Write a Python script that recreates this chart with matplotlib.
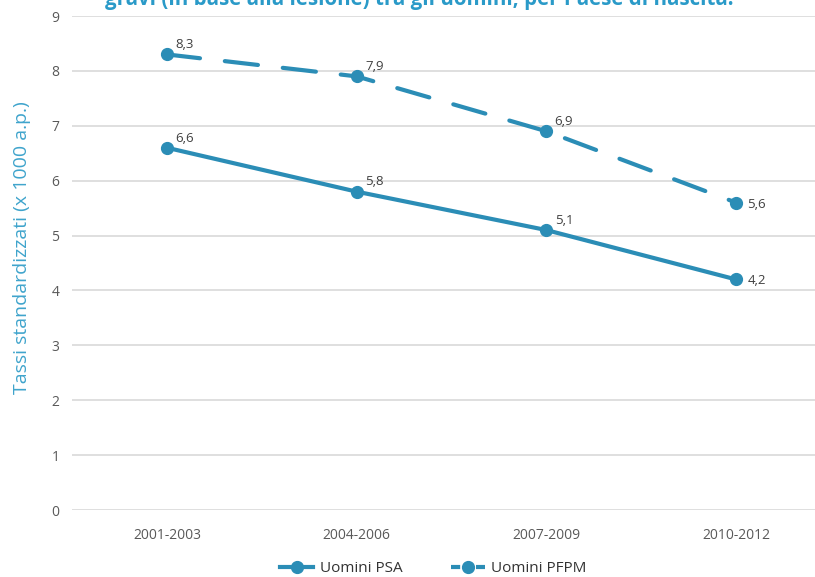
import matplotlib
matplotlib.use("Agg")
import matplotlib.pyplot as plt
from matplotlib.lines import Line2D

plt.rcParams['font.family'] = ['Open Sans', 'DejaVu Sans']

periods = ["2001-2003", "2004-2006", "2007-2009", "2010-2012"]
psa = [6.6, 5.8, 5.1, 4.2]
pfpm = [8.3, 7.9, 6.9, 5.6]
series_names = ["Uomini PSA", "Uomini PFPM"]
y_ticks = [0, 1, 2, 3, 4, 5, 6, 7, 8, 9]
title = "gravi (in base alla lesione) tra gli uomini, per Paese di nascita."
y_label = "Tassi standardizzati (x 1000 a.p.)"

BLUE = "#2B8DB6"
GRID = "#D9D9D9"
TICK = "#595959"

fig = plt.figure(figsize=(8.15, 5.77), dpi=100)
ax = fig.add_axes([72 / 815, 1 - 510 / 577, 759 / 815, 494 / 577])

x = list(range(len(periods)))
ax.plot(x, psa, color=BLUE, lw=3, marker="o", ms=8.5, solid_capstyle="round", zorder=3)
ax.plot(x, pfpm, color=BLUE, lw=3, marker="o", ms=8.5, dashes=(8, 6),
        dash_capstyle="round", zorder=3)

for values in (psa, pfpm):
    for i, v in enumerate(values):
        label = f"{v:.1f}".replace(".", ",")
        if i == len(values) - 1:
            ax.annotate(label, (i, v), xytext=(8, -1), textcoords="offset points",
                        ha="left", va="center", fontsize=9.5, color="#404040")
        else:
            ax.annotate(label, (i, v), xytext=(6, 7), textcoords="offset points",
                        ha="left", va="center", fontsize=9.5, color="#404040")

ax.set_xlim(-0.5, 3.5)
ax.set_ylim(0, 9)
ax.set_yticks(y_ticks)
ax.set_xticks(x)
ax.set_xticklabels(periods)
ax.yaxis.grid(True, color=GRID, lw=1.2)
ax.set_axisbelow(True)
for s in ax.spines.values():
    s.set_visible(False)
ax.tick_params(axis="both", length=0, colors=TICK, labelsize=10)
ax.tick_params(axis="y", pad=9)
ax.tick_params(axis="x", pad=13)

fig.text(22 / 815, 1 - 248 / 577, y_label, rotation=90, ha="center", va="center",
         fontsize=14, color="#3FA4CC")

fig.text(419 / 815, 1 - 5 / 577, title, ha="center", va="baseline",
         fontsize=14.8, fontweight="bold", color="#2A9AC8")

handles = [
    Line2D([], [], color=BLUE, lw=3, marker="o", ms=8.5),
    Line2D([], [], color=BLUE, lw=3, marker="o", ms=8.5, dashes=(2.2, 0.8)),
]
fig.legend(handles, series_names, loc="center", bbox_to_anchor=(433 / 815, 1 - 569 / 577),
           ncol=2, frameon=False, fontsize=11, handlelength=2.2, columnspacing=3.2,
           handletextpad=0.4, labelcolor="#333333")

fig.savefig("out.png", dpi=100)
